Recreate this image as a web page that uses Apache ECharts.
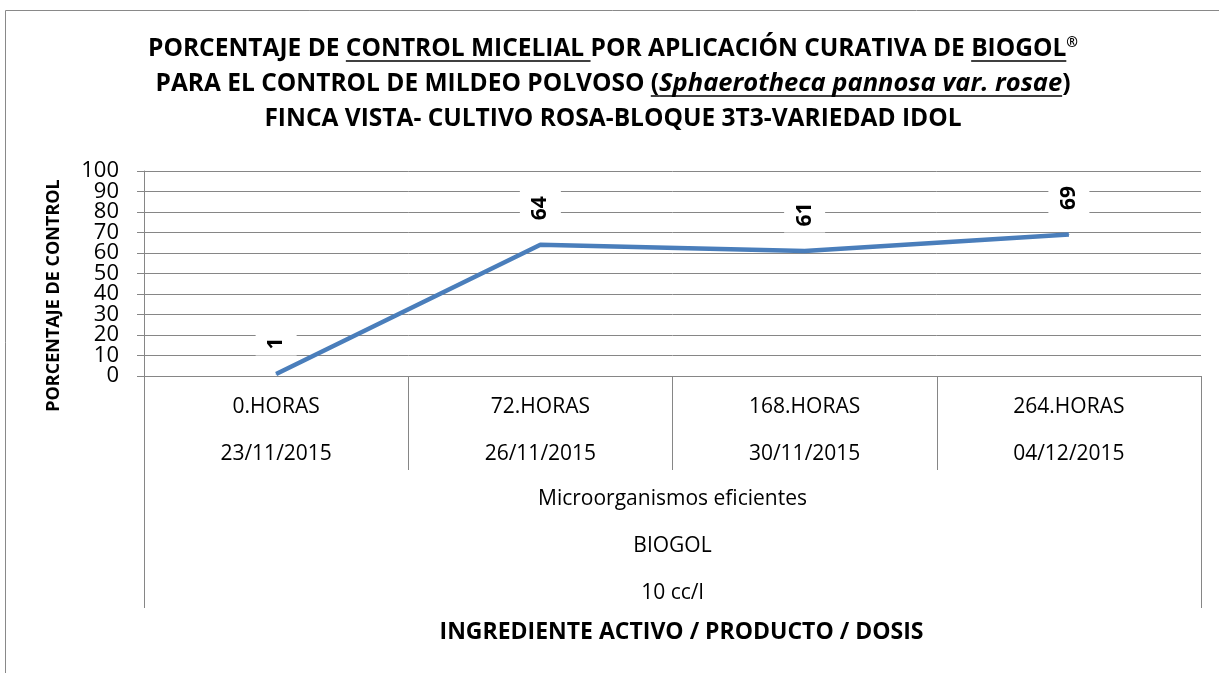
<!DOCTYPE html>
<html>
<head>
<meta charset="utf-8">
<script src="https://cdn.jsdelivr.net/npm/echarts@6/dist/echarts.min.js"></script>
<style>
  html, body { margin: 0; padding: 0; background: #fff; }
  #chart { width: 1219px; height: 673px; }
</style>
</head>
<body>
<div id="chart"></div>
<script>
// datos
const horas = ['0.HORAS', '72.HORAS', '168.HORAS', '264.HORAS']
const fechas = ['23/11/2015', '26/11/2015', '30/11/2015', '04/12/2015']
const producto = ['Microorganismos eficientes', 'BIOGOL', '10 cc/l']
const control = [1, 64, 61, 69]
const yTicks = [0, 10, 20, 30, 40, 50, 60, 70, 80, 90, 100]

const FONT = '"Open Sans", "Noto Sans", sans-serif'
const GRIS = '#868686'

// las etiquetas del eje Y estan muy juntas: se reparten en dos ejes superpuestos
const yPares = yTicks.filter((v, i) => i % 2 === 0)
const yImpares = yTicks.filter((v, i) => i % 2 === 1)

// titulo: segmentos [texto, estilo, subrayado]
const tituloLineas = [
  [['PORCENTAJE DE ', 'n', false], ['CONTROL MICELIAL ', 'n', true], ['POR APLICACIÓN CURATIVA DE ', 'n', false], ['BIOGOL', 'n', true], ['®', 'sup', false]],
  [['PARA EL CONTROL DE MILDEO POLVOSO ', 'n', false], ['(', 'n', true], ['Sphaerotheca pannosa var. rosae', 'i', true], [')', 'n', false]],
  [['FINCA VISTA- CULTIVO ROSA-BLOQUE 3T3-VARIEDAD IDOL', 'n', false]]
]
const tituloY = [49, 84, 119]
const tituloX = 613
const TSIZE = 24.5

const rich = {
  n: { fontSize: TSIZE, fontWeight: 'bold', fontFamily: FONT, fill: '#000' },
  i: { fontSize: 25.5, fontWeight: 'bold', fontStyle: 'italic', fontFamily: FONT, fill: '#000' },
  sup: { fontSize: 14, fontWeight: 'bold', fontFamily: FONT, fill: '#000', padding: [0, 0, 12, 0] }
}

const ctx = document.createElement('canvas').getContext('2d')
const medir = (txt, st) => {
  const s = rich[st]
  ctx.font = (s.fontStyle || 'normal') + ' ' + s.fontWeight + ' ' + s.fontSize + 'px ' + FONT
  return ctx.measureText(txt).width
}

const graficos = [
  {
    type: 'rect', z: -1,
    shape: { x: 5.5, y: 10.5, width: 1400, height: 900 },
    style: { fill: 'none', stroke: '#898989', lineWidth: 1 }
  }
]
tituloLineas.forEach((linea, k) => {
  graficos.push({
    type: 'text', x: tituloX, y: tituloY[k],
    style: {
      text: linea.map(s => '{' + s[1] + '|' + s[0] + '}').join(''),
      rich: rich, align: 'center', verticalAlign: 'middle'
    }
  })
  const anchos = linea.map(s => medir(s[0], s[1]))
  let x = tituloX - anchos.reduce((a, b) => a + b, 0) / 2
  linea.forEach((s, j) => {
    if (s[2]) {
      graficos.push({
        type: 'line',
        shape: { x1: x, y1: tituloY[k] + 12, x2: x + anchos[j], y2: tituloY[k] + 12 },
        style: { stroke: '#000', lineWidth: 1.5 }
      })
    }
    x += anchos[j]
  })
})

const ejeY = (valores, principal) => ({
  type: 'value',
  position: 'left',
  min: 0, max: 100, interval: 10,
  axisLine: { show: principal, lineStyle: { color: GRIS, width: 1 } },
  axisTick: { show: principal, length: 7, customValues: yTicks, lineStyle: { color: GRIS } },
  splitLine: { show: principal, lineStyle: { color: GRIS, width: 1 } },
  axisLabel: { margin: 25, customValues: valores, color: '#000', fontSize: 22 }
})

const yPrincipal = Object.assign(ejeY(yPares, true), {
  name: 'PORCENTAJE DE CONTROL',
  nameLocation: 'middle',
  nameRotate: 90,
  nameGap: 81,
  nameTextStyle: { color: '#000', fontSize: 18, fontWeight: 'bold', padding: [0, 44, 0, 0] }
})

const chart = echarts.init(document.getElementById('chart'))
chart.setOption({
  animation: false,
  textStyle: { fontFamily: FONT },
  graphic: graficos,
  grid: { left: 144, right: 18, top: 171, bottom: 297, containLabel: false },
  xAxis: [
    {
      type: 'category',
      data: horas,
      boundaryGap: true,
      axisLine: { lineStyle: { color: GRIS, width: 1 } },
      axisTick: { show: true, interval: 0, length: 94, lineStyle: { color: GRIS } },
      axisLabel: {
        interval: 0, margin: 8, color: '#000', fontSize: 21, lineHeight: 47,
        formatter: (v, i) => v + '\n' + fechas[i]
      }
    },
    {
      type: 'category',
      data: [producto.join('\n')],
      position: 'bottom',
      boundaryGap: true,
      axisLine: { show: false },
      axisTick: { show: true, interval: 0, length: 232, lineStyle: { color: GRIS } },
      axisLabel: { interval: 0, margin: 100, color: '#000', fontSize: 21, lineHeight: 47 },
      splitLine: { show: false },
      name: 'INGREDIENTE ACTIVO / PRODUCTO / DOSIS',
      nameLocation: 'middle',
      nameGap: 239,
      nameTextStyle: { color: '#000', fontSize: 23, fontWeight: 'bold', lineHeight: 30, padding: [0, 0, 0, 18] }
    }
  ],
  yAxis: [yPrincipal, ejeY(yImpares, false)],
  series: [
    {
      type: 'line',
      data: control,
      xAxisIndex: 0,
      yAxisIndex: 0,
      symbol: 'circle',
      symbolSize: 1,
      showSymbol: true,
      color: '#4a7ebb',
      lineStyle: { color: '#4a7ebb', width: 4.5 },
      label: {
        show: true,
        position: 'top',
        distance: 18,
        rotate: 90,
        align: 'left',
        verticalAlign: 'middle',
        color: '#000',
        fontSize: 21,
        fontWeight: 'bold',
        lineHeight: 27,
        backgroundColor: '#fff',
        padding: [7, 6]
      }
    }
  ]
})
</script>
</body>
</html>
